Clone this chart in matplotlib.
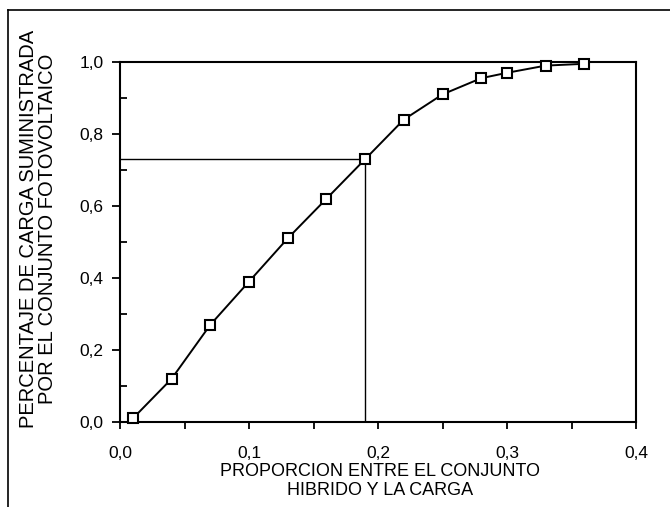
import matplotlib.pyplot as plt
from matplotlib.ticker import MultipleLocator, FuncFormatter
from matplotlib.lines import Line2D

plt.rcParams['font.family'] = ['Liberation Sans', 'DejaVu Sans']

proporcion = [0.01, 0.04, 0.07, 0.10, 0.13, 0.16, 0.19, 0.22, 0.25, 0.28, 0.30, 0.33, 0.36]
carga = [0.01, 0.12, 0.27, 0.39, 0.51, 0.62, 0.73, 0.84, 0.91, 0.955, 0.97, 0.99, 0.995]
x_ref = 0.19
y_ref = 0.73

W, H = 670, 507
fig = plt.figure(figsize=(W / 100, H / 100), dpi=100)
ax = fig.add_axes([120 / W, 1 - 422 / H, 516 / W, 360 / H])

ax.plot(proporcion, carga, color='black', lw=1.4, marker='s', ms=6.5,
        mfc='white', mec='black', mew=1.5, zorder=3, clip_on=False)
ax.plot([0, x_ref], [y_ref, y_ref], color='black', lw=1.0)
ax.plot([x_ref, x_ref], [0, y_ref], color='black', lw=1.0)

ax.set_xlim(0, 0.4)
ax.set_ylim(0, 1.0)
ax.xaxis.set_major_locator(MultipleLocator(0.1))
ax.xaxis.set_minor_locator(MultipleLocator(0.05))
ax.yaxis.set_major_locator(MultipleLocator(0.2))
ax.yaxis.set_minor_locator(MultipleLocator(0.1))
coma = FuncFormatter(lambda v, p: f'{v:.1f}'.replace('.', ','))
ax.xaxis.set_major_formatter(coma)
ax.yaxis.set_major_formatter(coma)
ax.tick_params(which='both', width=1.3, labelsize=12.5)
ax.tick_params(axis='x', which='both', direction='out', length=5, pad=12)
ax.tick_params(axis='y', which='major', direction='out', length=6, pad=6)
ax.tick_params(axis='y', which='minor', direction='in', length=5)
for s in ax.spines.values():
    s.set_linewidth(1.5)

fig.text(380 / W, 1 - 481 / H, 'PROPORCION ENTRE EL CONJUNTO\nHIBRIDO Y LA CARGA',
         ha='center', va='center', fontsize=13, linespacing=1.1)
fig.text(38 / W, 1 - 229 / H, 'PERCENTAJE DE CARGA SUMINISTRADA\nPOR EL CONJUNTO FOTOVOLTAICO',
         ha='center', va='center', rotation=90, fontsize=14.5, linespacing=0.95)

# marco de la pagina
fig.add_artist(Line2D([8 / W, 1], [1 - 10 / H] * 2, color='black', lw=1.2))
fig.add_artist(Line2D([8 / W] * 2, [0, 1 - 10 / H], color='black', lw=1.2))

fig.savefig('out.png', dpi=100)
